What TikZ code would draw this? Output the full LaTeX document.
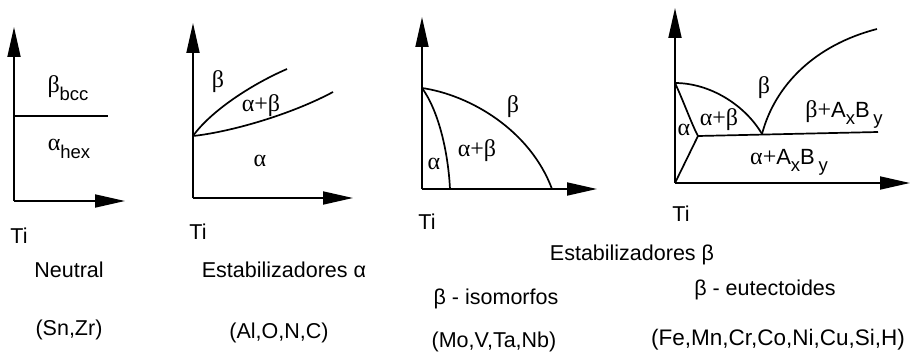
\documentclass[tikz,border=0pt]{standalone}
\usepackage{fontspec}
\setmainfont{Liberation Sans}
\newfontfamily\grk{Liberation Serif}
\newfontfamily\sans{Liberation Sans}
\usetikzlibrary{arrows.meta, positioning}
\newcommand{\subtxt}[1]{\raisebox{-0.32em}{\sans\fontsize{18.5}{18}\selectfont #1}}
\newcommand{\compd}{{\sans\fontsize{22}{24}\selectfont A\subtxt{x}B\,\subtxt{y}}}

\begin{document}
\begin{tikzpicture}[
      x=1pt, y=-1pt,
      axis/.style={line width=1.8pt, -{Triangle[length=30pt,width=13pt]}},
      bound/.style={line width=1.7pt},
      phase/.style={font=\grk\fontsize{24}{26}\selectfont, inner sep=0pt},
      caption/.style={font=\fontsize{21.5}{25}\selectfont, inner sep=0pt},
    ]
      \useasboundingbox (0,0) rectangle (913,361);

      % Neutral
      \coordinate (o1) at (14,201);
      \draw[axis] (o1) -- (14,27) coordinate (y1);
      \draw[axis] (o1) -- (125,201) coordinate (x1);
      \coordinate (l1) at (14,116);
      \coordinate (r1) at (108,116);
      \draw[bound] (l1) -- (r1);
      \node[phase] (bcc) at (68,88) {β\subtxt{bcc}};
      \node[phase] (hex) at (69,149) {α\subtxt{hex}};
      \node[caption] (ti1) at (19,236) {Ti};
      \node[caption] (neutral) at (69,270) {Neutral};
      \node[caption] (snzr) at (69,330) {(Sn,Zr)};

      % Estabilizadores alfa
      \coordinate (o2) at (193,198);
      \draw[axis] (o2) -- (193,23) coordinate (y2);
      \draw[axis] (o2) -- (353,198) coordinate (x2);
      \coordinate (j2) at (193,136);
      \coordinate (up2) at (287,69);
      \coordinate (lo2) at (333,92);
      \draw[bound] (j2) .. controls (210,112) and (250,85) .. (up2);
      \draw[bound] (j2) .. controls (230,132) and (290,115) .. (lo2);
      \node[phase] (b2) at (218,82) {β};
      \node[phase] (ab2) at (261,106) {α+β};
      \node[phase] (a2) at (260,161) {α};
      \node[caption] (ti2) at (198,232) {Ti};
      \node[caption] (estA) at (284,270) {Estabilizadores α};
      \node[caption] (alonc) at (279,333) {(Al,O,N,C)};

      % beta isomorfos
      \coordinate (o3) at (422,189);
      \draw[axis] (o3) -- (422,17) coordinate (y3);
      \draw[axis] (o3) -- (597,189) coordinate (x3);
      \coordinate (t3) at (422,88);
      \coordinate (e3) at (552,189);
      \coordinate (i3) at (450,189);
      \draw[bound] (t3) .. controls (470,95) and (530,130) .. (e3);
      \draw[bound] (t3) .. controls (438,110) and (448,150) .. (i3);
      \node[phase] (b3) at (513,107) {β};
      \node[phase] (ab3) at (477,151) {α+β};
      \node[phase] (a3) at (434,164) {α};
      \node[caption] (ti3) at (427,222) {Ti};
      \node[caption] (iso) at (496,299) {β - isomorfos};
      \node[caption] (movtanb) at (494,342) {(Mo,V,Ta,Nb)};

      \node[caption] (estB) at (632,255) {Estabilizadores β};

      % beta eutectoides
      \coordinate (o4) at (675,183);
      \draw[axis] (o4) -- (675,8) coordinate (y4);
      \draw[axis] (o4) -- (910,183) coordinate (x4);
      \coordinate (t4) at (675,83);
      \coordinate (eut) at (762,134);
      \coordinate (p4) at (698,136);
      \coordinate (r4) at (878,132);
      \coordinate (liq) at (877,29);
      \draw[bound] (t4) .. controls (710,83) and (745,105) .. (eut);
      \draw[bound] (eut) .. controls (775,85) and (815,45) .. (liq);
      \draw[bound] (p4) -- (r4);
      \draw[bound] (t4) .. controls (683,100) and (692,125) .. (p4) -- (o4);
      \node[phase] (b4) at (764,88) {β};
      \node[phase] (bc4) at (844,114) {β+\compd};
      \node[phase] (ab4) at (719,120) {α+β};
      \node[phase] (a4) at (684,130) {α};
      \node[phase] (ac4) at (789,162) {α+\compd};
      \node[caption] (ti4) at (681,214) {Ti};
      \node[caption] (eutec) at (765,290) {β - eutectoides};
      \node[caption, font=\fontsize{22.5}{26}\selectfont] (fe) at (778,340) {(Fe,Mn,Cr,Co,Ni,Cu,Si,H)};
    \end{tikzpicture}
\end{document}
